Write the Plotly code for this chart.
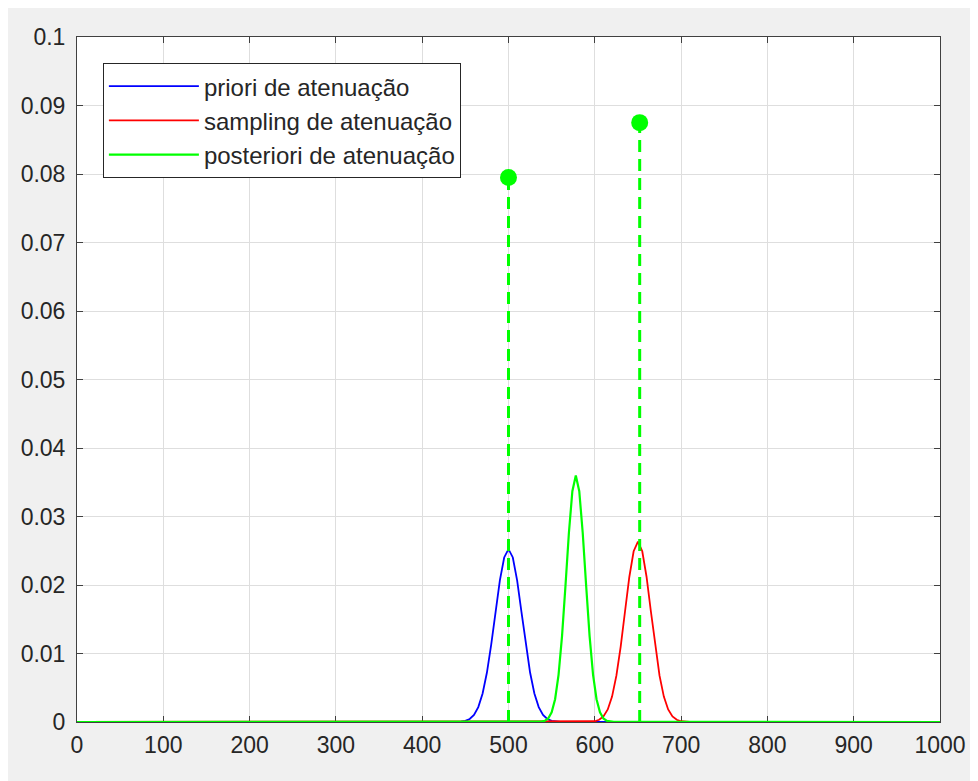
import plotly.graph_objects as go

# ---- data ----
blue_x = [0, 440, 445, 450, 455, 460, 465, 470, 475, 480, 485, 490, 495, 500,
          505, 510, 515, 520, 525, 530, 535, 540, 545, 550, 555, 560, 1000]
blue_y = [0, 0.00002, 0.00006, 0.00017, 0.00044, 0.00102, 0.00217, 0.00416, 0.00722,
          0.01134, 0.01609, 0.02067, 0.02402, 0.02525,
          0.02402, 0.02067, 0.01609, 0.01134, 0.00722, 0.00416, 0.00217, 0.00102,
          0.00044, 0.00017, 0.00006, 0.00002, 0]

red_x = [0, 590, 595, 600, 605, 610, 615, 620, 625, 630, 635, 640, 645, 650,
         655, 660, 665, 670, 675, 680, 685, 690, 695, 700, 705, 710, 1000]
red_y = [0, 0.00001, 0.00004, 0.00011, 0.00032, 0.00081, 0.00183, 0.00371, 0.00676,
         0.01102, 0.01613, 0.02117, 0.02493, 0.02632,
         0.02493, 0.02117, 0.01613, 0.01102, 0.00676, 0.00371, 0.00183, 0.00081,
         0.00032, 0.00011, 0.00004, 0.00001, 0]

green_x = [0, 534, 538, 542, 546, 550, 554, 558, 562, 566, 570, 574, 578,
           582, 586, 590, 594, 598, 602, 606, 610, 614, 618, 622, 1000]
green_y = [0, 0.00001, 0.00005, 0.00017, 0.00052, 0.00141, 0.00333, 0.00689, 0.01250,
           0.01986, 0.02763, 0.03370, 0.03600,
           0.03370, 0.02763, 0.01986, 0.01250, 0.00689, 0.00333, 0.00141, 0.00052,
           0.00017, 0.00005, 0.00001, 0]

stem_x = [500, 652]
stem_y = [0.0795, 0.0875]

x_ticks = [0, 100, 200, 300, 400, 500, 600, 700, 800, 900, 1000]
y_ticks = [0, 0.01, 0.02, 0.03, 0.04, 0.05, 0.06, 0.07, 0.08, 0.09, 0.1]
y_tick_text = ["0", "0.01", "0.02", "0.03", "0.04", "0.05", "0.06", "0.07", "0.08", "0.09", "0.1"]

names = ["priori de atenuação", "sampling de atenuação", "posteriori de atenuação"]

# ---- figure ----
fig = go.Figure()
fig.add_trace(go.Scatter(x=blue_x, y=blue_y, mode="lines", name=names[0],
                         line=dict(color="#0000ff", width=1.8)))
fig.add_trace(go.Scatter(x=red_x, y=red_y, mode="lines", name=names[1],
                         line=dict(color="#ff0000", width=1.8)))
fig.add_trace(go.Scatter(x=green_x, y=green_y, mode="lines", name=names[2],
                         line=dict(color="#00ff00", width=2.2)))

for sx, sy in zip(stem_x, stem_y):
    fig.add_trace(go.Scatter(x=[sx, sx], y=[0, sy], mode="lines", showlegend=False,
                             line=dict(color="#00ff00", width=3, dash="12px,7px")))
fig.add_trace(go.Scatter(x=stem_x, y=stem_y, mode="markers", showlegend=False,
                         marker=dict(color="#00ff00", size=17, symbol="circle")))

axis_common = dict(
    showline=True, mirror="ticks", linecolor="#404040", linewidth=1,
    showgrid=True, gridcolor="#dedede", gridwidth=1,
    ticks="inside", ticklen=6, tickcolor="#404040", tickwidth=1,
    zeroline=False, layer="below traces",
    tickfont=dict(family="Liberation Sans, Arial, sans-serif", size=23, color="#262626"),
)

fig.update_xaxes(range=[0, 1000], tickvals=x_ticks, ticklabelstandoff=2, **axis_common)
fig.update_yaxes(range=[0, 0.1], tickvals=y_ticks, ticktext=y_tick_text,
                 ticklabelstandoff=6, **axis_common)

fig.update_layout(
    width=970, height=773,
    margin=dict(l=69, r=29, t=29, b=59),
    paper_bgcolor="#f0f0f0",
    plot_bgcolor="#ffffff",
    font=dict(family="Liberation Sans, Arial, sans-serif", color="#262626"),
    showlegend=True,
    legend=dict(
        x=0.030, y=0.962, xanchor="left", yanchor="top",
        bgcolor="#ffffff", bordercolor="#262626", borderwidth=1,
        font=dict(size=24, color="#262626"),
        itemwidth=90, tracegroupgap=0,
    ),
)

fig.write_html("out.html")
